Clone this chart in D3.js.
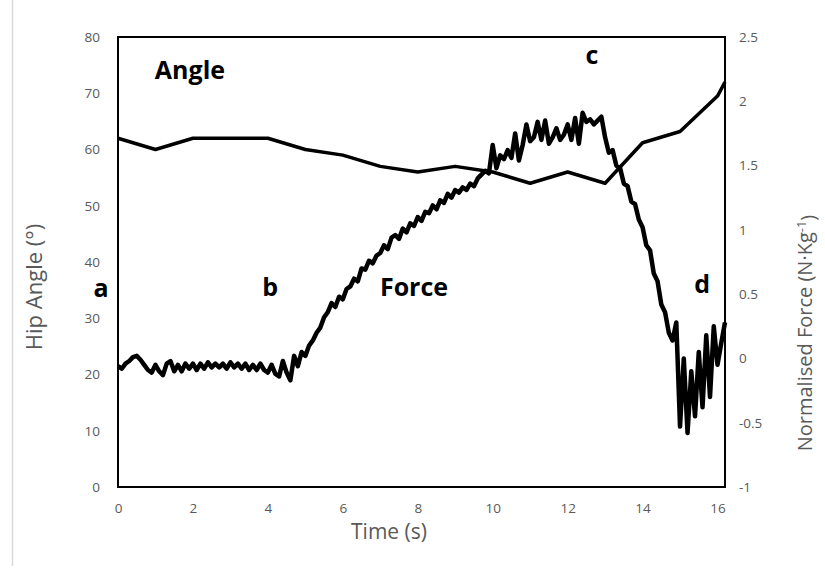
<!DOCTYPE html>
<html>
<head>
<meta charset="utf-8">
<script src="https://cdn.jsdelivr.net/npm/d3@7"></script>
<style>
  body { margin: 0; background: #fff; }
  svg { display: block; }
  text { font-family: "Open Sans", sans-serif; }
</style>
</head>
<body>
<svg></svg>
<script>
// hip angle, sampled each second (last point at end of trial)
var angleTime  = [0, 1, 2, 3, 4, 5, 6, 7, 8, 9, 10, 11, 12, 13, 14, 15, 16, 16.2];
var angleValue = [62, 60, 62, 62, 62, 60, 59, 57, 56, 57, 56, 54, 56, 54, 61.2, 63.2, 69.5, 72];

// normalised force, one value every 0.1 s from t = 0
var forceStep = 0.1;
var forceValue = [
  -0.06,-0.08,-0.04,-0.02, 0.01, 0.02,-0.01,-0.05,-0.09,-0.11,
  -0.05,-0.10,-0.13,-0.04,-0.02,-0.10,-0.05,-0.10,-0.04,-0.08,
  -0.04,-0.09,-0.04,-0.08,-0.03,-0.07,-0.04,-0.07,-0.04,-0.08,
  -0.03,-0.07,-0.04,-0.08,-0.04,-0.09,-0.05,-0.09,-0.04,-0.09,
  -0.11,-0.05,-0.12,-0.14,-0.02,-0.11,-0.17, 0.02,-0.06, 0.05,
   0.02, 0.10, 0.14, 0.20, 0.24, 0.32, 0.36, 0.43, 0.40, 0.48,
   0.46, 0.54, 0.56, 0.62, 0.60, 0.70, 0.69, 0.76, 0.74, 0.80,
   0.82, 0.88, 0.85, 0.94, 0.96, 0.93, 1.01, 0.98, 1.05, 1.03,
   1.10, 1.07, 1.14, 1.13, 1.19, 1.16, 1.23, 1.21, 1.28, 1.25,
   1.31, 1.29, 1.33, 1.31, 1.36, 1.34, 1.40, 1.43, 1.46, 1.44,
   1.66, 1.48, 1.58, 1.55, 1.62, 1.56, 1.75, 1.54, 1.66, 1.82,
   1.69, 1.72, 1.84, 1.70, 1.85, 1.67, 1.72, 1.79, 1.70, 1.74,
   1.82, 1.70, 1.87, 1.67, 1.91, 1.84, 1.86, 1.82, 1.85, 1.88,
   1.72, 1.60, 1.62, 1.50, 1.48, 1.36, 1.34, 1.22, 1.20, 1.08,
   1.02, 0.88, 0.84, 0.66, 0.60, 0.42, 0.36, 0.20, 0.14, 0.28,
  -0.53, 0.00,-0.58,-0.10,-0.45, 0.05,-0.38, 0.18,-0.30, 0.25,
  -0.05, 0.12, 0.28
];

var xTicks = [0, 2, 4, 6, 8, 10, 12, 14, 16];
var angleTicks = [0, 10, 20, 30, 40, 50, 60, 70, 80];
var forceTicks = [-1, -0.5, 0, 0.5, 1, 1.5, 2, 2.5];

// chart labels, placed in data units (time, hip angle)
var noteText  = ["Angle", "a", "b", "Force", "c", "d"];
var noteTime  = [1.92, -0.45, 4.06, 7.9, 12.65, 15.59];
var noteAngle = [74.1, 35.4, 35.6, 35.6, 76.8, 36.1];

var margin = {top: 37, right: 100, bottom: 93, left: 118},
    width = 825 - margin.left - margin.right,
    height = 580 - margin.top - margin.bottom;

var svg = d3.select("svg")
    .attr("width", 825)
    .attr("height", 580);

// faint outer frame on the left, as in the source
svg.append("line")
    .attr("x1", 12.5).attr("x2", 12.5)
    .attr("y1", 0).attr("y2", 566)
    .attr("stroke", "#d9d9d9")
    .attr("stroke-width", 1.5);

var g = svg.append("g")
    .attr("transform", "translate(" + margin.left + "," + margin.top + ")");

var x = d3.scaleLinear().domain([0, 16.2]).range([0, width]);
var yAngle = d3.scaleLinear().domain([0, 80]).range([height, 0]);
var yForce = d3.scaleLinear().domain([-1, 2.5]).range([height, 0]);

// axes (no tick marks, just labels)
var xAxis = g.append("g")
    .attr("transform", "translate(0," + height + ")")
    .call(d3.axisBottom(x).tickValues(xTicks).tickSize(0).tickPadding(16));
var leftAxis = g.append("g")
    .call(d3.axisLeft(yAngle).tickValues(angleTicks).tickSize(0).tickPadding(18));
var rightAxis = g.append("g")
    .attr("transform", "translate(" + width + ",0)")
    .call(d3.axisRight(yForce).tickValues(forceTicks).tickSize(0).tickPadding(14)
      .tickFormat(function(d) { return String(d); }));

[xAxis, leftAxis, rightAxis].forEach(function(a) {
  a.select(".domain").remove();
  a.selectAll("text")
    .style("font-family", "'Open Sans', sans-serif")
    .style("font-size", "13.5px")
    .attr("fill", "#595959");
});

// lines
var angleLine = d3.line()
    .x(function(d, i) { return x(angleTime[i]); })
    .y(function(d) { return yAngle(d); });

var forceLine = d3.line()
    .x(function(d, i) { return x(i * forceStep); })
    .y(function(d) { return yForce(d); });

g.append("path")
    .datum(forceValue)
    .attr("fill", "none")
    .attr("stroke", "#000")
    .attr("stroke-width", 4.5)
    .attr("stroke-linejoin", "round")
    .attr("d", forceLine);

g.append("path")
    .datum(angleValue)
    .attr("fill", "none")
    .attr("stroke", "#000")
    .attr("stroke-width", 3.5)
    .attr("stroke-linejoin", "round")
    .attr("d", angleLine);

// plot area border
g.append("rect")
    .attr("width", width)
    .attr("height", height)
    .attr("fill", "none")
    .attr("stroke", "#000")
    .attr("stroke-width", 2);

// annotations
g.selectAll(".note")
    .data(noteText)
    .enter()
    .append("text")
    .attr("class", "note")
    .attr("x", function(d, i) { return x(noteTime[i]); })
    .attr("y", function(d, i) { return yAngle(noteAngle[i]); })
    .attr("dy", "0.35em")
    .attr("text-anchor", "middle")
    .style("font-size", "25px")
    .style("font-weight", "bold")
    .attr("fill", "#000")
    .text(function(d) { return d; });

// axis titles
svg.append("text")
    .attr("transform", "translate(34,287) rotate(-90)")
    .attr("text-anchor", "middle")
    .attr("dy", "0.35em")
    .style("font-size", "22px")
    .attr("fill", "#595959")
    .text("Hip Angle (°)");

var rt = svg.append("text")
    .attr("transform", "translate(805,333) rotate(-90)")
    .attr("text-anchor", "middle")
    .attr("dy", "0.35em")
    .style("font-size", "20px")
    .attr("fill", "#595959");
rt.append("tspan").text("Normalised Force (N·Kg");
rt.append("tspan").attr("dy", "-0.45em").style("font-size", "13px").text("-1");
rt.append("tspan").attr("dy", "0.45em").text(")");

svg.append("text")
    .attr("x", 389)
    .attr("y", 532)
    .attr("dy", "0.35em")
    .attr("text-anchor", "middle")
    .style("font-size", "21px")
    .attr("fill", "#595959")
    .text("Time (s)");
</script>
</body>
</html>
